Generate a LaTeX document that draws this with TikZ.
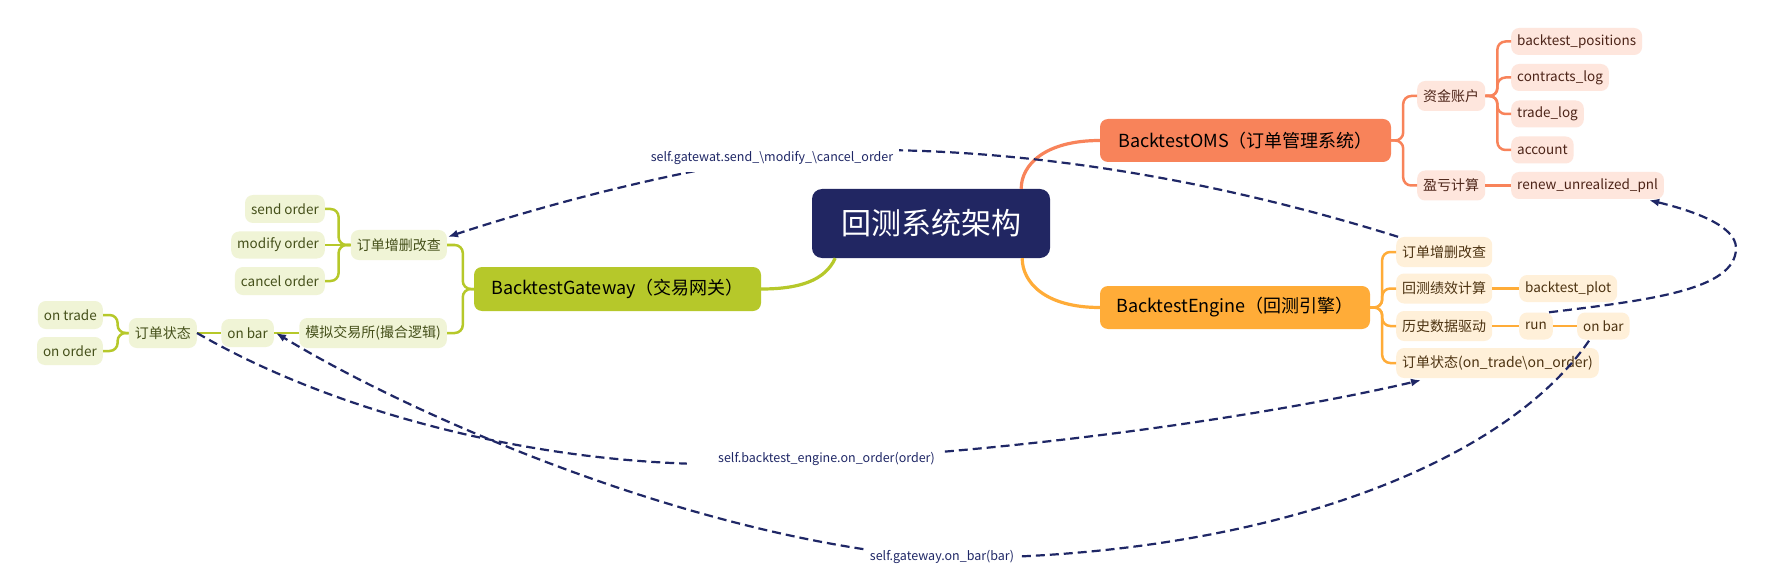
\documentclass[tikz,border=0pt]{standalone}
\usepackage{fontspec}
\setmainfont{Noto Sans CJK SC}
\usetikzlibrary{arrows.meta}
\definecolor{navy}{HTML}{212662}
\definecolor{omsc}{HTML}{F8835A}
\definecolor{engc}{HTML}{FFAC38}
\definecolor{gwc}{HTML}{B6C82A}
\definecolor{omsl}{HTML}{FEE6DD}
\definecolor{engl}{HTML}{FFF0D9}
\definecolor{gwl}{HTML}{F0F4D6}
\definecolor{omst}{HTML}{4D2418}
\definecolor{engt}{HTML}{4D3311}
\definecolor{gwt}{HTML}{45501A}
\definecolor{dashc}{HTML}{1F2766}
\tikzset{
  rootbox/.style={fill=navy, rounded corners=10pt, text=white, font=\fontsize{30}{34}\selectfont, minimum width=238pt, minimum height=69pt, inner sep=0pt},
  mainbox/.style={rounded corners=8pt, text=black, font=\fontsize{18}{22}\selectfont, minimum height=43pt, inner sep=0pt},
  kid/.style={rounded corners=8pt, font=\fontsize{13.5}{16}\selectfont, inner xsep=6pt, inner ysep=0pt, minimum height=27pt},
  cjkkid/.style={kid, font=\fontsize{14}{17}\selectfont, minimum height=30pt},
  omskid/.style={fill=omsl, text=omst},
  engkid/.style={fill=engl, text=engt},
  gwkid/.style={fill=gwl, text=gwt},
  omsline/.style={draw=omsc, line width=2.5pt, rounded corners=8pt},
  engline/.style={draw=engc, line width=2.5pt, rounded corners=8pt},
  gwline/.style={draw=gwc, line width=2.5pt, rounded corners=8pt},
  rootline/.style={line width=3.2pt},
  callline/.style={draw=dashc, line width=2.2pt, dash pattern=on 9pt off 5pt, -{Latex[length=10pt,width=8pt]}},
  calllabel/.style={fill=white, text=dashc, font=\fontsize{12.5}{14}\selectfont},
}
\begin{document}
\begin{tikzpicture}[x=1pt, y=-1pt]
\fill[white] (0,0) rectangle (1791,580);
\useasboundingbox (0,0) rectangle (1791,580);

% main nodes
\node[rootbox] (root) at (931,223.5) {回测系统架构};
\node[mainbox, fill=omsc, minimum width=291pt] (oms) at (1245.5,140.5) {BacktestOMS（订单管理系统）};
\node[mainbox, fill=engc, minimum width=270pt] (eng) at (1235,307.5) {BacktestEngine（回测引擎）};
\node[mainbox, fill=gwc, minimum width=287pt, minimum height=44pt] (gw) at (617.5,289) {BacktestGateway（交易网关）};

% OMS children
\node[cjkkid, omskid, anchor=west] (acct) at (1417,96) {资金账户};
\node[cjkkid, omskid, anchor=west] (pnl) at (1417,185.5) {盈亏计算};
\node[kid, omskid, anchor=west] (bp) at (1511,41.5) {backtest\_positions};
\node[kid, omskid, anchor=west] (cl) at (1511,77.5) {contracts\_log};
\node[kid, omskid, anchor=west] (tl) at (1511,114) {trade\_log};
\node[kid, omskid, anchor=west] (acc) at (1511,150) {account};
\node[kid, omskid, anchor=west] (renew) at (1511,185.5) {renew\_unrealized\_pnl};

% Engine children
\node[cjkkid, engkid, anchor=west] (e1) at (1396,252) {订单增删改查};
\node[cjkkid, engkid, anchor=west] (e2) at (1396,288.5) {回测绩效计算};
\node[cjkkid, engkid, anchor=west] (e3) at (1396,326) {历史数据驱动};
\node[cjkkid, engkid, anchor=west] (e4) at (1396,363) {订单状态(on\_trade\textbackslash on\_order)};
\node[kid, engkid, anchor=west] (plot) at (1519,288.5) {backtest\_plot};
\node[kid, engkid, anchor=west] (run) at (1519,326) {run};
\node[kid, engkid, anchor=west] (eob) at (1577,326) {on bar};

% Gateway children
\node[cjkkid, gwkid, anchor=east] (g1) at (447,245) {订单增删改查};
\node[cjkkid, gwkid, anchor=east] (g2) at (447,333) {模拟交易所(撮合逻辑)};
\node[kid, gwkid, anchor=east, minimum height=28pt] (send) at (325,209) {send order};
\node[kid, gwkid, anchor=east] (modify) at (325,245) {modify order};
\node[kid, gwkid, anchor=east, minimum height=28pt] (cancel) at (325,281) {cancel order};
\node[kid, gwkid, anchor=east, minimum height=28pt] (gob) at (274,333) {on bar};
\node[cjkkid, gwkid, anchor=east] (gst) at (197,333) {订单状态};
\node[kid, gwkid, anchor=east, minimum height=28pt] (ontrade) at (103,315) {on trade};
\node[kid, gwkid, anchor=east, minimum height=28pt] (onorder) at (103,351) {on order};

% root curves
\draw[rootline, draw=omsc] ([xshift=-29pt]root.north east) .. controls +(0,-24) and +(-55,0) .. (oms.west);
\draw[rootline, draw=engc] ([xshift=-28pt]root.south east) .. controls +(0,24) and +(-55,0) .. (eng.west);
\draw[rootline, draw=gwc] ([xshift=-215pt]root.south east) .. controls +(-10,22) and +(39,0) .. (gw.east);

% OMS tree
\draw[omsline] (oms.east) -- ++(12,0) |- (acct.west);
\draw[omsline] (oms.east) -- ++(12,0) |- (pnl.west);
\draw[omsline] (acct.east) -- ++(12,0) |- (bp.west);
\draw[omsline] (acct.east) -- ++(12,0) |- (cl.west);
\draw[omsline] (acct.east) -- ++(12,0) |- (tl.west);
\draw[omsline] (acct.east) -- ++(12,0) |- (acc.west);
\draw[omsline] (pnl.east) -- (renew.west);

% Engine tree
\draw[engline] (eng.east) -- ++(12,0) |- (e1.west);
\draw[engline] (eng.east) -- ++(12,0) |- (e2.west);
\draw[engline] (eng.east) -- ++(12,0) |- (e3.west);
\draw[engline] (eng.east) -- ++(12,0) |- (e4.west);
\draw[engline] (e2.east) -- (plot.west);
\draw[engline] (e3.east) -- (run.west);
\draw[engline] (run.east) -- (eob.west);

% Gateway tree
\draw[gwline] (gw.west) -- ++(-11,0) |- (g1.east);
\draw[gwline] (gw.west) -- ++(-11,0) |- (g2.east);
\draw[gwline] (g1.west) -- ++(-12,0) |- (send.east);
\draw[gwline] (g1.west) -- (modify.east);
\draw[gwline] (g1.west) -- ++(-12,0) |- (cancel.east);
\draw[gwline] (g2.west) -- (gob.east);
\draw[gwline] (gob.west) -- (gst.east);
\draw[gwline] (gst.west) -- ++(-11,0) |- (ontrade.east);
\draw[gwline] (gst.west) -- ++(-11,0) |- (onorder.east);

% call connectors
\coordinate (m1) at (870,150);
\coordinate (m2) at (700,464);
\coordinate (m3) at (940,558);
\coordinate (m4) at (1736,248);
\draw[callline] ([xshift=2pt]e1.north west) .. controls (1200,175) and (1020,150) .. (m1) .. controls (755,150) and (575,195) .. ([shift={(1,7)}]g1.north east);
\draw[callline] (gst.east) .. controls (330,410) and (520,460) .. (m2) .. controls (950,462) and (1250,420) .. ([shift={(25,2)}]e4.south west);
\draw[callline] ([shift={(12,1)}]eob.south west) .. controls (1500,470) and (1250,560) .. (m3) .. controls (700,540) and (420,420) .. ([xshift=2pt]gob.east);
\draw[callline] ([xshift=-4pt]run.north east) .. controls (1650,300) and (1736,290) .. (m4) .. controls (1736,225) and (1690,210) .. ([shift={(-15,1)}]renew.south east);

% labels
\node[calllabel, inner xsep=6pt, inner ysep=7pt] (l1) at (772,158) {self.gatewat.send\_\textbackslash modify\_\textbackslash cancel\_order};
\node[calllabel, anchor=west, inner xsep=0pt, inner ysep=6pt] (l2) at (687,459) {\hspace*{31pt}self.backtest\_engine.on\_order(order)\hspace*{6pt}};
\node[calllabel, inner xsep=4pt, inner ysep=6pt] (l3) at (942,557) {self.gateway.on\_bar(bar)};
\end{tikzpicture}
\end{document}
